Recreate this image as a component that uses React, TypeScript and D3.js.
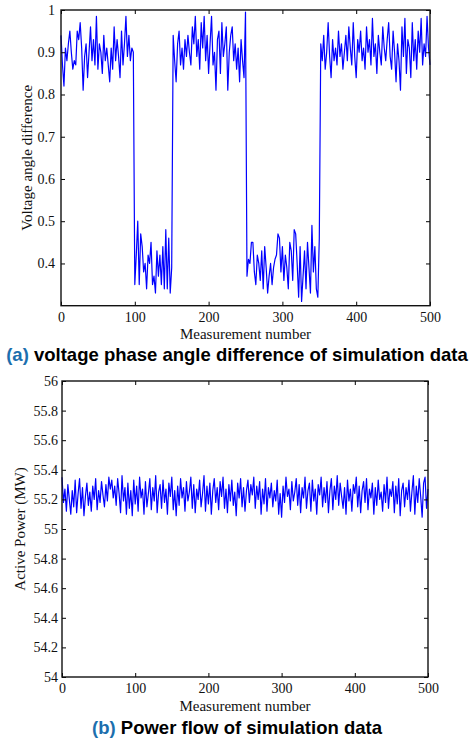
import React, { useEffect, useRef } from "react";
import * as d3 from "d3";

// measurement spacing of the arrays below
const STEP = 2;

// voltage angle difference
const voltHigh1 = [0.94,0.87,0.82,0.91,0.88,0.92,0.95,0.90,0.86,0.88,0.87,0.95,0.93,0.97,0.91,0.81,0.89,0.92,0.84,0.90,0.96,0.88,0.93,0.87,0.985,0.86,0.92,0.90,0.85,0.94,0.88,0.91,0.87,0.83,0.91,0.86,0.96,0.88,0.93,0.89,0.84,0.95,0.87,0.92,0.985,0.89,0.94,0.88,0.91,0.90];
const voltLow1 = [0.35,0.42,0.50,0.35,0.47,0.44,0.38,0.40,0.34,0.42,0.40,0.45,0.35,0.37,0.33,0.43,0.37,0.42,0.35,0.44,0.34,0.48,0.34,0.46,0.33,0.39];
const voltHigh2 = [0.94,0.88,0.83,0.92,0.95,0.87,0.91,0.86,0.93,0.89,0.94,0.90,0.87,0.96,0.92,0.985,0.89,0.93,0.86,0.97,0.91,0.985,0.88,0.94,0.85,0.92,0.985,0.87,0.90,0.81,0.93,0.95,0.85,0.97,0.89,0.92,0.96,0.81,0.90,0.94,0.96,0.88,0.92,0.86,0.91,0.83,0.93,0.88,0.84,0.995];
const voltLow2 = [0.37,0.41,0.40,0.45,0.45,0.38,0.35,0.42,0.40,0.36,0.43,0.34,0.44,0.39,0.33,0.37,0.40,0.35,0.39,0.41,0.42,0.47,0.46,0.38,0.44,0.36,0.42,0.39,0.34,0.45,0.43,0.36,0.48,0.47,0.40,0.32,0.44,0.31,0.37,0.43,0.34,0.45,0.39,0.33,0.49,0.38,0.44,0.34,0.32,0.46];
const voltHigh3 = [0.92,0.88,0.94,0.86,0.90,0.97,0.89,0.84,0.93,0.88,0.91,0.87,0.95,0.89,0.92,0.86,0.90,0.94,0.88,0.96,0.91,0.87,0.97,0.89,0.84,0.93,0.90,0.95,0.88,0.91,0.86,0.96,0.90,0.93,0.87,0.98,0.89,0.92,0.85,0.94,0.90,0.87,0.96,0.91,0.88,0.93,0.97,0.89,0.86,0.95,0.90,0.83,0.92,0.88,0.81,0.96,0.89,0.98,0.85,0.93,0.91,0.84,0.97,0.88,0.93,0.86,0.95,0.90,0.98,0.87,0.92,0.89,0.985,0.91,0.87];

// active power (MW)
const power1 = [55.35,55.18,55.27,55.12,55.30,55.20,55.10,55.26,55.15,55.33,55.11,55.24,55.34,55.14,55.28,55.09,55.22,55.31,55.16,55.25,55.12,55.29,55.20,55.34,55.13,55.26,55.18,55.32,55.23,55.15,55.30,55.19,55.35,55.27,55.33,55.21,55.29,55.16,55.34,55.24,55.11,55.36,55.19,55.28,55.10,55.31,55.14,55.26,55.09,55.33];
const power2 = [55.17,55.29,55.12,55.35,55.21,55.27,55.10,55.32,55.15,55.24,55.34,55.13,55.28,55.19,55.36,55.11,55.25,55.30,55.14,55.33,55.18,55.27,55.10,55.31,55.22,55.35,55.13,55.26,55.09,55.29,55.16,55.34,55.21,55.28,55.12,55.32,55.19,55.25,55.35,55.14,55.30,55.11,55.27,55.20,55.33,55.15,55.24,55.36,55.12,55.29];
const power3 = [55.17,55.31,55.10,55.26,55.34,55.18,55.28,55.13,55.32,55.22,55.35,55.14,55.27,55.11,55.30,55.19,55.33,55.16,55.25,55.09,55.31,55.21,55.34,55.15,55.28,55.12,55.26,55.33,55.18,55.30,55.23,55.35,55.14,55.29,55.20,55.32,55.10,55.27,55.17,55.34,55.12,55.28,55.21,55.31,55.15,55.26,55.19,55.33,55.10,55.24];
const power4 = [55.08,55.29,55.18,55.35,55.22,55.27,55.13,55.32,55.19,55.25,55.34,55.16,55.30,55.11,55.28,55.21,55.35,55.14,55.26,55.31,55.12,55.33,55.19,55.27,55.10,55.30,55.23,55.35,55.15,55.28,55.18,55.32,55.11,55.26,55.34,55.13,55.29,55.20,55.36,55.16,55.31,55.22,55.14,55.28,55.10,55.33,55.19,55.27,55.12,55.30];
const power5 = [55.24,55.35,55.15,55.29,55.11,55.26,55.32,55.18,55.34,55.13,55.27,55.21,55.31,55.10,55.28,55.16,55.33,55.20,55.25,55.12,55.30,55.18,55.35,55.14,55.27,55.22,55.32,55.11,55.29,55.17,55.34,55.09,55.26,55.31,55.15,55.28,55.20,55.33,55.12,55.25,55.36,55.10,55.29,55.18,55.34,55.22,55.08,55.31,55.35,55.14,55.27];

const xTicks = [0, 100, 200, 300, 400, 500];
const voltTicks = [0.4, 0.5, 0.6, 0.7, 0.8, 0.9, 1];
const powerTicks = [54, 54.2, 54.4, 54.6, 54.8, 55, 55.2, 55.4, 55.6, 55.8, 56];

const W = 474;
const H = 741;
const serif = "Liberation Serif, Times New Roman, serif";
const sans = "Liberation Sans, Arial, Helvetica, sans-serif";

function drawPanel(svg, opts) {
  const { values, yDomain, yTicks, left, right, top, bottom, yLabel, yLabelX, yPad, xLabelY, caption, tag, captionY } = opts;
  const x = d3.scaleLinear().domain([0, 500]).range([left, right]);
  const y = d3.scaleLinear().domain(yDomain).range([bottom, top]);
  const pts = values.map((v, i) => [i * STEP, v]);

  const g = svg.append("g");

  g.append("path")
    .datum(pts)
    .attr("fill", "none")
    .attr("stroke", "#0000ff")
    .attr("stroke-width", 1.2)
    .attr("stroke-linejoin", "round")
    .attr("d", d3.line().x(d => x(d[0])).y(d => y(d[1])));

  // axes (ticks point inward)
  g.append("g").attr("transform", `translate(0,${bottom})`)
    .call(d3.axisBottom(x).tickValues(xTicks).tickSizeInner(-4).tickSizeOuter(0).tickPadding(6).tickFormat(d3.format("d")));
  g.append("g").attr("transform", `translate(0,${top})`)
    .call(d3.axisTop(x).tickValues(xTicks).tickSizeInner(-4).tickSizeOuter(0).tickFormat(() => ""));
  g.append("g").attr("transform", `translate(${left},0)`)
    .call(d3.axisLeft(y).tickValues(yTicks).tickSizeInner(-4).tickSizeOuter(0).tickPadding(yPad).tickFormat(d => String(d)));
  g.append("g").attr("transform", `translate(${right},0)`)
    .call(d3.axisRight(y).tickValues(yTicks).tickSizeInner(-4).tickSizeOuter(0).tickFormat(() => ""));

  g.selectAll(".domain").remove();
  g.selectAll("g").attr("font-family", serif).attr("font-size", 14);
  g.selectAll(".tick line").attr("stroke", "#000").attr("stroke-width", 1);
  g.selectAll(".tick text").attr("fill", "#111");

  g.append("rect")
    .attr("x", left).attr("y", top)
    .attr("width", right - left).attr("height", bottom - top)
    .attr("fill", "none").attr("stroke", "#111").attr("stroke-width", 1.4);

  g.append("text")
    .attr("x", (left + right) / 2).attr("y", xLabelY)
    .attr("text-anchor", "middle")
    .attr("font-family", serif).attr("font-size", 15).attr("fill", "#111")
    .text("Measurement number");

  g.append("text")
    .attr("transform", `translate(${yLabelX},${(top + bottom) / 2}) rotate(-90)`)
    .attr("text-anchor", "middle")
    .attr("font-family", serif).attr("font-size", 15).attr("fill", "#111")
    .text(yLabel);

  const cap = g.append("text")
    .attr("x", W / 2).attr("y", captionY)
    .attr("text-anchor", "middle")
    .attr("font-family", sans).attr("font-size", 18.5).attr("font-weight", "bold").attr("fill", "#000");
  cap.append("tspan").attr("fill", "#1c6fae").text(tag);
  cap.append("tspan").text(" " + caption);
}

export default function App() {
  const svgRef = useRef(null);

  useEffect(() => {
    const svg = d3.select(svgRef.current);
    svg.selectAll("*").remove();

    drawPanel(svg, {
      values: [...voltHigh1, ...voltLow1, ...voltHigh2, ...voltLow2, ...voltHigh3],
      yDomain: [0.3, 1], yTicks: voltTicks,
      left: 61, right: 430, top: 10, bottom: 305.7,
      yLabel: "Voltage angle difference", yLabelX: 32, yPad: 6,
      xLabelY: 339, tag: "(a)", caption: "voltage phase angle difference of simulation data", captionY: 361
    });

    drawPanel(svg, {
      values: [...power1, ...power2, ...power3, ...power4, ...power5],
      yDomain: [54, 56], yTicks: powerTicks,
      left: 62, right: 428, top: 381, bottom: 677,
      yLabel: "Active Power (MW)", yLabelX: 25, yPad: 4,
      xLabelY: 711, tag: "(b)", caption: "Power flow of simulation data", captionY: 734
    });
  }, []);

  return (
    <svg ref={svgRef} width={W} height={H}
      style={{ position: "absolute", left: 0, top: 0, background: "#fff" }} />
  );
}
